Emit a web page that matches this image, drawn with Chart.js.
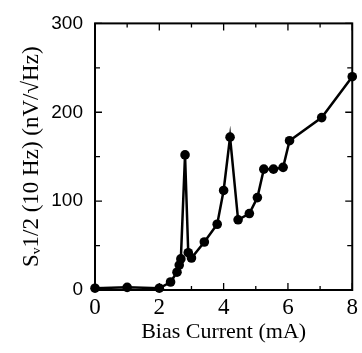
<!DOCTYPE html>
<html>
<head>
<meta charset="utf-8">
<script src="https://cdn.jsdelivr.net/npm/chart.js@4.4.1/dist/chart.umd.min.js"></script>
<style>
  html, body { margin: 0; padding: 0; background: #fff; }
  #wrap { width: 362px; height: 353px; }
</style>
</head>
<body>
<div id="wrap"><canvas id="noiseChart"></canvas></div>
<script>
// bias current (mA) and noise at 10 Hz (nV/sqrt(Hz))
const biasCurrent = [0, 1, 2, 2.35, 2.55, 2.62, 2.67, 2.8, 2.9, 3.0, 3.4, 3.8, 4.0, 4.2, 4.45, 4.8, 5.05, 5.25, 5.55, 5.85, 6.05, 7.05, 8];
const noise       = [2, 3, 2, 9, 20, 28, 35, 152, 42, 36, 54, 74, 112, 172, 79, 86, 104, 136, 136, 138, 168, 194, 240];
const xTicks = [0, 2, 4, 6, 8];
const yTicks = [0, 100, 200, 300];

const points = biasCurrent.map((x, i) => ({x: x, y: noise[i]}));

// box round the plot with inward ticks on all four sides
const frame = {
  id: 'frame',
  afterDraw(chart) {
    const c = chart.ctx;
    const a = chart.chartArea;
    const xs = chart.scales.x, ys = chart.scales.y;
    c.save();
    c.strokeStyle = '#000';
    c.lineWidth = 2;
    c.strokeRect(a.left, a.top, a.right - a.left, a.bottom - a.top);
    c.lineWidth = 1.3;
    c.beginPath();
    for (let v = 0; v <= 300; v += 50) {
      let y = ys.getPixelForValue(v);
      let len = v % 100 === 0 ? 7 : 5;
      c.moveTo(a.left, y); c.lineTo(a.left + len, y);
      c.moveTo(a.right, y); c.lineTo(a.right - len, y);
    }
    for (let v = 0; v <= 8; v += 1) {
      let x = xs.getPixelForValue(v);
      let len = v % 2 === 0 ? 7 : 4;
      c.moveTo(x, a.bottom); c.lineTo(x, a.bottom - len);
      c.moveTo(x, a.top); c.lineTo(x, a.top + len);
    }
    c.stroke();
    c.restore();
  }
};

const ctx = document.getElementById('noiseChart').getContext('2d');

const myChart = new Chart(ctx, {
  type: 'line',
  data: {
    datasets: [{
      data: points,
      borderColor: '#000',
      backgroundColor: '#000',
      borderWidth: 2.5,
      pointRadius: 4.8,
      pointBorderWidth: 0,
      tension: 0,
      clip: false
    }]
  },
  options: {
    responsive: true,
    maintainAspectRatio: false,
    animation: false,
    layout: { padding: { top: 17, right: 3, left: 0, bottom: 0 } },
    plugins: { legend: { display: false }, tooltip: { enabled: false } },
    scales: {
      x: {
        type: 'linear',
        min: 0, max: 8,
        afterBuildTicks: (s) => { s.ticks = xTicks.map(v => ({value: v})); },
        afterFit: (s) => { s.height = 63; },
        grid: { display: false, drawTicks: false },
        border: { display: false },
        ticks: {
          padding: 4,
          color: '#000',
          maxRotation: 0,
          font: { family: 'Liberation Serif', size: 23 }
        },
        title: {
          display: true,
          text: 'Bias Current (mA)',
          color: '#000',
          padding: { top: 0, bottom: 8 },
          font: { family: 'Liberation Serif', size: 22 }
        }
      },
      y: {
        min: 0, max: 300,
        afterBuildTicks: (s) => { s.ticks = yTicks.map(v => ({value: v})); },
        afterFit: (s) => { s.width = 95; },
        grid: { display: false, drawTicks: false },
        border: { display: false },
        ticks: {
          padding: 12,
          color: '#000',
          font: { family: 'Liberation Sans', size: 19 }
        },
        title: {
          display: true,
          text: 'Sᵥ1/2 (10 Hz) (nV/√Hz)',
          color: '#000',
          padding: { top: 18, bottom: 0 },
          font: { family: 'Liberation Serif', size: 23 }
        }
      }
    }
  },
  plugins: [frame]
});
</script>
</body>
</html>
